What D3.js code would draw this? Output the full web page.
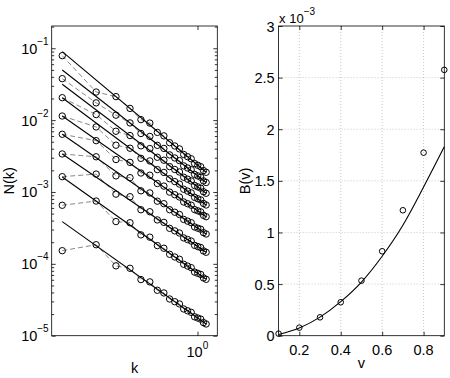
<!DOCTYPE html>
<html>
<head>
<meta charset="utf-8">
<script src="https://cdn.jsdelivr.net/npm/d3@7"></script>
<style>
  body { margin: 0; background: #fff; }
  text { font-family: "Liberation Sans", Arial, sans-serif; fill: #000; }
</style>
</head>
<body>
<div id="chart"></div>
<script>
// wavenumbers k = 2*pi*n/100, n = 1..19
const kVals = [0.0628, 0.1257, 0.1885, 0.2513, 0.3142, 0.3770, 0.4398, 0.5027, 0.5655, 0.6283,
               0.6912, 0.7540, 0.8168, 0.8796, 0.9425, 1.0053, 1.0681, 1.1310, 1.1938];

// log10 N(k), one array per v (bottom to top)
const logN01 = [-3.817, -3.734, -4.028, -4.062, -4.219, -4.251, -4.368, -4.405, -4.489, -4.527, -4.558, -4.628, -4.653, -4.675, -4.737, -4.754, -4.769, -4.818, -4.837];
const logN02 = [-3.185, -3.126, -3.412, -3.428, -3.597, -3.629, -3.746, -3.783, -3.867, -3.905, -3.936, -4.006, -4.031, -4.053, -4.115, -4.132, -4.147, -4.196, -4.215];
const logN03 = [-2.787, -2.751, -3.030, -3.066, -3.247, -3.275, -3.389, -3.423, -3.506, -3.541, -3.571, -3.639, -3.662, -3.683, -3.743, -3.759, -3.773, -3.821, -3.839];
const logN04 = [-2.471, -2.510, -2.776, -2.801, -2.984, -3.013, -3.128, -3.163, -3.247, -3.282, -3.313, -3.382, -3.406, -3.427, -3.487, -3.504, -3.518, -3.566, -3.585];
const logN05 = [-2.197, -2.286, -2.549, -2.588, -2.736, -2.767, -2.882, -2.918, -3.002, -3.038, -3.070, -3.139, -3.163, -3.184, -3.245, -3.262, -3.277, -3.325, -3.344];
const logN06 = [-1.943, -2.095, -2.349, -2.391, -2.532, -2.568, -2.689, -2.728, -2.816, -2.856, -2.890, -2.962, -2.988, -3.012, -3.075, -3.094, -3.110, -3.160, -3.181];
const logN07 = [-1.688, -1.923, -2.155, -2.215, -2.358, -2.396, -2.517, -2.558, -2.647, -2.687, -2.722, -2.795, -2.822, -2.847, -2.910, -2.929, -2.947, -2.997, -3.018];
const logN08 = [-1.423, -1.760, -1.931, -2.039, -2.186, -2.227, -2.351, -2.394, -2.484, -2.527, -2.563, -2.637, -2.666, -2.691, -2.756, -2.776, -2.795, -2.846, -2.868];
const logN09 = [-1.103, -1.609, -1.673, -1.837, -1.993, -2.041, -2.171, -2.219, -2.314, -2.360, -2.400, -2.478, -2.509, -2.538, -2.605, -2.628, -2.648, -2.702, -2.726];
const seriesLogN = [logN01, logN02, logN03, logN04, logN05, logN06, logN07, logN08, logN09];

// fitted power laws: log10 N at first and last k
const fitStart = [-3.413, -2.791, -2.471, -2.197, -1.942, -1.688, -1.501, -1.302, -1.047];
const fitEnd   = [-4.837, -4.215, -3.839, -3.585, -3.344, -3.181, -3.018, -2.868, -2.726];

// right panel, B in units of 1e-3
const vVals  = [0.1, 0.2, 0.3, 0.4, 0.5, 0.6, 0.7, 0.8, 0.9];
const bDots  = [0.02, 0.078, 0.178, 0.324, 0.533, 0.818, 1.215, 1.773, 2.575];
const bCurve = [0.012, 0.075, 0.18, 0.33, 0.52, 0.77, 1.07, 1.44, 1.83];
const bTicks = [0, 0.5, 1, 1.5, 2, 2.5, 3];
const vTicks = [0.2, 0.4, 0.6, 0.8];
const nDecades = [-5, -4, -3, -2, -1];

const W = 450, H = 378;
const FS = 14.5;   // tick label size
const svg = d3.select('#chart').append('svg')
  .attr('width', W).attr('height', H);

// ---- left panel ----
const L = {left: 51.7, right: 217.3, top: 26, bottom: 335.7};
const xL = d3.scaleLog().domain([0.0506, 1.5]).range([L.left, L.right]);
const yL = d3.scaleLog().domain([1e-5, 0.204]).range([L.bottom, L.top]);

const gL = svg.append('g');

// minor ticks
const minor = [];
nDecades.forEach(e => { for (let m = 2; m <= 9; m++) { const v = m * Math.pow(10, e); if (v < 0.204) minor.push(v); } });
const major = nDecades.map(e => Math.pow(10, e));

gL.append('g').attr('transform', `translate(${L.left},0)`)
  .call(d3.axisLeft(yL).tickValues(major).tickSize(-4).tickFormat(''));
gL.append('g').attr('transform', `translate(${L.right},0)`)
  .call(d3.axisRight(yL).tickValues(major).tickSize(-4).tickFormat(''));
gL.append('g').attr('transform', `translate(${L.left},0)`)
  .call(d3.axisLeft(yL).tickValues(minor).tickSize(-2.5).tickFormat(''));
gL.append('g').attr('transform', `translate(${L.right},0)`)
  .call(d3.axisRight(yL).tickValues(minor).tickSize(-2.5).tickFormat(''));
gL.append('g').attr('transform', `translate(0,${L.bottom})`)
  .call(d3.axisBottom(xL).tickValues([1]).tickSize(-4).tickFormat(''));
gL.append('g').attr('transform', `translate(0,${L.top})`)
  .call(d3.axisTop(xL).tickValues([1]).tickSize(-4).tickFormat(''));
gL.selectAll('.domain').remove();
gL.selectAll('.tick line').attr('stroke', '#000').attr('stroke-width', 0.8);

gL.append('rect')
  .attr('x', L.left).attr('y', L.top)
  .attr('width', L.right - L.left).attr('height', L.bottom - L.top)
  .attr('fill', 'none').attr('stroke', '#000').attr('stroke-width', 0.8);

// y tick labels 10^e
major.forEach((v, i) => {
  const t = gL.append('text')
    .attr('x', L.left - 3).attr('y', yL(v) + 5.5)
    .attr('text-anchor', 'end');
  t.append('tspan').attr('font-size', FS).text('10');
  t.append('tspan').attr('font-size', 10).attr('dy', -9).text('\u2212' + Math.abs(nDecades[i]));
});
const t0 = gL.append('text').attr('x', xL(1) - 11).attr('y', 357);
t0.append('tspan').attr('font-size', FS).text('10');
t0.append('tspan').attr('font-size', 10).attr('dy', -8).text('0');

gL.append('text').attr('x', (L.left + L.right) / 2).attr('y', 373)
  .attr('text-anchor', 'middle').attr('font-size', FS).text('k');
gL.append('text')
  .attr('transform', `translate(14,${(L.top + L.bottom) / 2}) rotate(-90)`)
  .attr('text-anchor', 'middle').attr('font-size', FS).text('N(k)');

const lineL = d3.line()
  .x((d, i) => xL(kVals[i]))
  .y(d => yL(Math.pow(10, d)));

// dashed data lines
seriesLogN.forEach(s => {
  gL.append('path').datum(s)
    .attr('d', lineL)
    .attr('fill', 'none')
    .attr('stroke', '#6a6a6a')
    .attr('stroke-width', 0.8)
    .attr('stroke-dasharray', '5,3');
});

// fit lines
fitStart.forEach((s, i) => {
  gL.append('line')
    .attr('x1', xL(kVals[0])).attr('y1', yL(Math.pow(10, s)))
    .attr('x2', xL(kVals[kVals.length - 1])).attr('y2', yL(Math.pow(10, fitEnd[i])))
    .attr('stroke', '#000').attr('stroke-width', 1.1);
});

// circles
seriesLogN.forEach(s => {
  gL.selectAll(null).data(s).enter().append('circle')
    .attr('cx', (d, i) => xL(kVals[i]))
    .attr('cy', d => yL(Math.pow(10, d)))
    .attr('r', 3.2)
    .attr('fill', 'none')
    .attr('stroke', '#000')
    .attr('stroke-width', 1);
});

// ---- right panel ----
const R = {left: 278.6, right: 444.3, top: 26, bottom: 335.7};
const xR = d3.scaleLinear().domain([0.1, 0.9]).range([R.left, R.right]);
const yR = d3.scaleLinear().domain([0, 3]).range([R.bottom, R.top]);
const gR = svg.append('g');

// grid
gR.selectAll('.vgrid').data(vTicks).enter().append('line')
  .attr('x1', d => xR(d)).attr('x2', d => xR(d))
  .attr('y1', R.top).attr('y2', R.bottom)
  .attr('stroke', '#bbb').attr('stroke-width', 0.8).attr('stroke-dasharray', '1,2');
gR.selectAll('.hgrid').data(bTicks.slice(1, -1)).enter().append('line')
  .attr('x1', R.left).attr('x2', R.right)
  .attr('y1', d => yR(d)).attr('y2', d => yR(d))
  .attr('stroke', '#bbb').attr('stroke-width', 0.8).attr('stroke-dasharray', '1,2');

const axR = [
  [`translate(0,${R.bottom})`, d3.axisBottom(xR).tickValues(vTicks)],
  [`translate(0,${R.top})`, d3.axisTop(xR).tickValues(vTicks)],
  [`translate(${R.left},0)`, d3.axisLeft(yR).tickValues(bTicks)],
  [`translate(${R.right},0)`, d3.axisRight(yR).tickValues(bTicks)]
];
axR.forEach(([tr, ax]) => {
  gR.append('g').attr('transform', tr).call(ax.tickSize(-4).tickFormat(''));
});
gR.selectAll('.domain').remove();
gR.selectAll('.tick line').attr('stroke', '#000').attr('stroke-width', 0.8);

gR.append('rect')
  .attr('x', R.left).attr('y', R.top)
  .attr('width', R.right - R.left).attr('height', R.bottom - R.top)
  .attr('fill', 'none').attr('stroke', '#000').attr('stroke-width', 0.8);

gR.selectAll('.ylab').data(bTicks).enter().append('text')
  .attr('x', R.left - 4).attr('y', d => yR(d) + 5.5)
  .attr('text-anchor', 'end').attr('font-size', FS)
  .text(d => d);
gR.selectAll('.xlab').data(vTicks).enter().append('text')
  .attr('x', d => xR(d)).attr('y', 355)
  .attr('text-anchor', 'middle').attr('font-size', FS)
  .text(d => d);

const tx = gR.append('text').attr('x', R.left + 0.5).attr('y', 22.5);
tx.append('tspan').attr('font-size', 13).text('x 10');
tx.append('tspan').attr('font-size', 10).attr('dy', -8).text('\u22123');

gR.append('text').attr('x', (R.left + R.right) / 2).attr('y', 368)
  .attr('text-anchor', 'middle').attr('font-size', FS).text('v');
gR.append('text')
  .attr('transform', `translate(250,${(R.top + R.bottom) / 2}) rotate(-90)`)
  .attr('text-anchor', 'middle').attr('font-size', FS).text('B(v)');

gR.append('path').datum(bCurve)
  .attr('d', d3.line().curve(d3.curveMonotoneX)
    .x((d, i) => xR(vVals[i])).y(d => yR(d)))
  .attr('fill', 'none').attr('stroke', '#000').attr('stroke-width', 1.1);

gR.selectAll('.dot').data(bDots).enter().append('circle')
  .attr('cx', (d, i) => xR(vVals[i]))
  .attr('cy', d => yR(d))
  .attr('r', 2.8)
  .attr('fill', 'none').attr('stroke', '#000').attr('stroke-width', 1);
</script>
</body>
</html>
